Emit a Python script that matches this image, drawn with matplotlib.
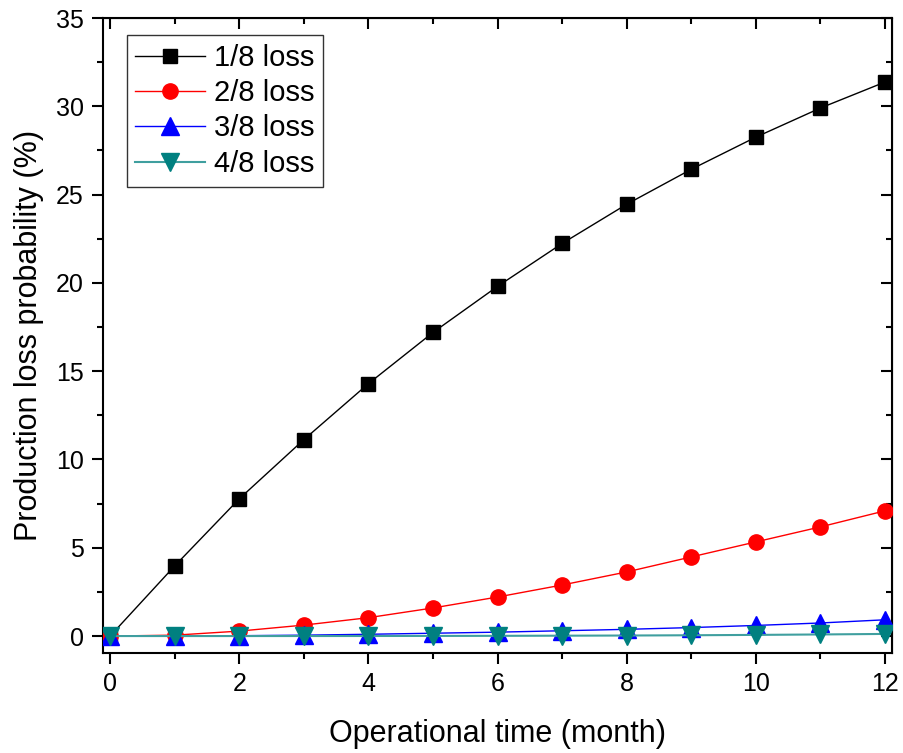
import matplotlib
matplotlib.use("Agg")
import matplotlib.pyplot as plt
from matplotlib.ticker import MultipleLocator

plt.rcParams['font.family'] = ['Liberation Sans', 'DejaVu Sans']

months = list(range(13))
loss_1_8 = [0, 3.97, 7.77, 11.12, 14.29, 17.19, 19.8, 22.23, 24.45, 26.43, 28.25, 29.9, 31.37]
loss_2_8 = [0, 0.05, 0.28, 0.62, 1.04, 1.59, 2.21, 2.89, 3.63, 4.48, 5.33, 6.18, 7.09]
loss_3_8 = [0, 0.003, 0.02, 0.05, 0.1, 0.16, 0.22, 0.3, 0.38, 0.48, 0.6, 0.74, 0.92]
loss_4_8 = [0, 0, 0, 0.001, 0.003, 0.007, 0.012, 0.02, 0.03, 0.045, 0.065, 0.09, 0.12]
labels = ["1/8 loss", "2/8 loss", "3/8 loss", "4/8 loss"]

fig = plt.figure(figsize=(9.04, 7.53), dpi=100)
ax = fig.add_axes([103/904, 1 - 653/753, (892-103)/904, (653-18)/753])

ax.plot(months, loss_1_8, color='black', lw=1, marker='s', ms=10, mfc='black', mec='black', label=labels[0], zorder=3)
ax.plot(months, loss_2_8, color='red', lw=1, marker='o', ms=11, mfc='red', mec='red', label=labels[1], zorder=4)
ax.plot(months, loss_3_8, color='blue', lw=1, marker='^', ms=13, mfc='blue', mec='blue', label=labels[2], zorder=5)
ax.plot(months, loss_4_8, color='#3f9f9f', lw=1.5, marker='v', ms=13, mfc='#008080', mec='#008080', label=labels[3], zorder=6)

ax.set_xlim(-0.11, 12.11)
ax.set_ylim(-0.96, 35)
ax.xaxis.set_major_locator(MultipleLocator(2))
ax.xaxis.set_minor_locator(MultipleLocator(1))
ax.yaxis.set_major_locator(MultipleLocator(5))
ax.yaxis.set_minor_locator(MultipleLocator(2.5))

ax.tick_params(which='both', direction='out', width=1.5, labelsize=18, top=False, right=False)
ax.tick_params(which='major', length=8, pad=6)
ax.tick_params(which='minor', length=4.5)
for s in ax.spines.values():
    s.set_linewidth(1.5)

axt = ax.secondary_xaxis('top')
axt.xaxis.set_major_locator(MultipleLocator(2))
axt.xaxis.set_minor_locator(MultipleLocator(1))
axt.tick_params(which='both', direction='in', width=1.5, labeltop=False)
axt.tick_params(which='major', length=8)
axt.tick_params(which='minor', length=4.5)
axr = ax.secondary_yaxis('right')
axr.yaxis.set_major_locator(MultipleLocator(5))
axr.yaxis.set_minor_locator(MultipleLocator(2.5))
axr.tick_params(which='both', direction='in', width=1.5, labelright=False)
axr.tick_params(which='major', length=8)
axr.tick_params(which='minor', length=4.5)

ax.set_xlabel("Operational time (month)", fontsize=22, labelpad=16)
ax.set_ylabel("Production loss probability (%)", fontsize=22, labelpad=8)

leg = ax.legend(loc='upper left', bbox_to_anchor=(0.03, 0.973), fontsize=21, frameon=True,
                fancybox=False, edgecolor='black', handlelength=2.4, borderpad=0.3,
                labelspacing=0.25, handletextpad=0.3, borderaxespad=0.0)
leg.get_frame().set_linewidth(1)
leg.set_zorder(10)

fig.savefig("out.png", dpi=100)
